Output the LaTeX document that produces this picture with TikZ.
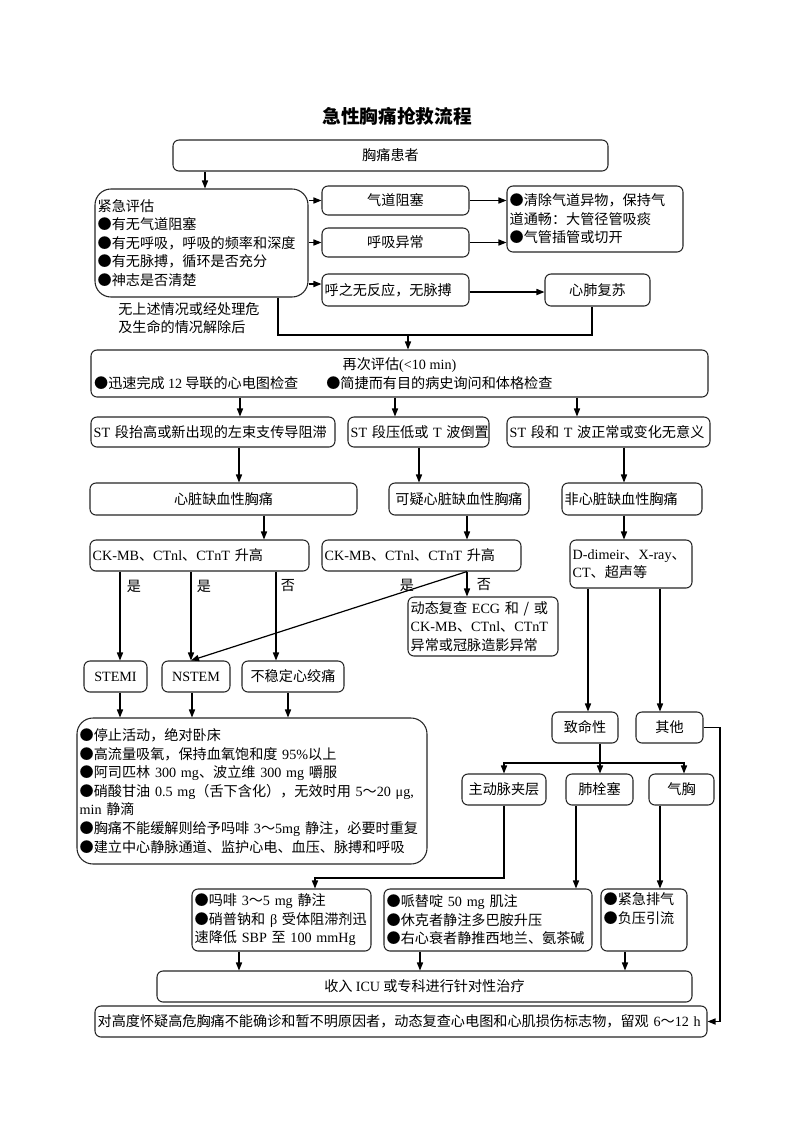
\documentclass[tikz,border=0pt]{standalone}
\usepackage{fontspec}
\setmainfont{Noto Sans CJK SC}
\newfontfamily\enfont{Liberation Serif}
\newcommand\E[1]{{\enfont #1}}
\usetikzlibrary{arrows.meta}
\tikzset{
  box/.style={draw=black!85,line width=0.8pt,rounded corners=4.5pt,inner xsep=2pt,inner ysep=1pt},
  arr/.style={line width=0.9pt,-{Triangle[length=6pt,width=4.6pt]}},
  ln/.style={line width=0.9pt},
  lab/.style={inner sep=0pt}
}
\newcommand\BC[7][]{\node[box,minimum width={(#5-#3)*0.75pt},minimum height={(#6-#4)*0.75pt},#1] (#2) at ({(#3+#5)/2},{(#4+#6)/2}) {#7};}
\newcommand\BL[7][]{\node[box,align=left,text width={(#5-#3)*0.75pt-4pt},minimum width={(#5-#3)*0.75pt},minimum height={(#6-#4)*0.75pt},#1] (#2) at ({(#3+#5)/2},{(#4+#6)/2}) {#7};}
\begin{document}
\begin{tikzpicture}[x=0.75pt,y=-0.75pt,font=\fontsize{10.6}{13.9}\selectfont]
\useasboundingbox (0,0) rectangle (793,1122);
\fill[white] (0,0) rectangle (793,1122);
% title
\node[font=\fontsize{14}{16}\selectfont\bfseries] (title) at (397,116) {急性胸痛抢救流程};
% top part
\BC{top}{173}{140}{608}{171}{胸痛患者}
\BL[rounded corners=12pt]{eval}{95}{189}{308}{297}{紧急评估\\●有无气道阻塞\\●有无呼吸，呼吸的频率和深度\\●有无脉搏，循环是否充分\\●神志是否清楚}
\BC{airway}{322}{186}{469}{215}{气道阻塞}
\BC{breath}{322}{228}{469}{257}{呼吸异常}
\BL{nopulse}{322}{274}{469}{306}{呼之无反应，无脉搏}
\BC{cpr}{545}{274}{650}{306}{心肺复苏}
\BL{clear}{507}{186}{683}{252}{●清除气道异物，保持气\\道通畅：大管径管吸痰\\●气管插管或切开}
\node[align=left,anchor=west,inner sep=0pt,font=\fontsize{10.6}{13.5}\selectfont] (note) at (118,318) {无上述情况或经处理危\\及生命的情况解除后};
% re-evaluation
\BC[align=center]{reeval}{91}{350}{708}{397}{再次评估\E{(<10~min)}\\\makebox[458pt][l]{●迅速完成~\E{12}~导联的心电图检查\hspace{21pt}●简捷而有目的病史询问和体格检查}}
\BL{stA}{91}{417}{335}{447}{\E{ST}~段抬高或新出现的左束支传导阻滞}
\BL{stB}{348}{417}{489}{447}{\E{ST}~段压低或~\E{T}~波倒置}
\BL{stC}{507}{417}{710}{447}{\E{ST}~段和~\E{T}~波正常或变化无意义}
\BC{isch}{90}{483}{357}{515}{心脏缺血性胸痛}
\BC{susp}{389}{483}{529}{515}{可疑心脏缺血性胸痛}
\BL{nonisch}{562}{483}{702}{515}{非心脏缺血性胸痛}
\BL{ckA}{90}{540}{309}{571}{\E{CK-MB}、\E{CTnl}、\E{CTnT}~升高}
\BL{ckB}{322}{540}{521}{571}{\E{CK-MB}、\E{CTnl}、\E{CTnT}~升高}
\BL{ddim}{570}{540}{692}{588}{\E{D-dimeir}、\E{X-ray}、\\\E{CT}、超声等}
\BL{dyn}{408}{597}{558}{656}{动态复查~\E{ECG}~和~/~或\\\E{CK-MB}、\E{CTnl}、\E{CTnT}\\异常或冠脉造影异常}
\BC{stemi}{84}{661}{147}{692}{\E{STEMI}}
\BC{nstem}{162}{661}{230}{692}{\E{NSTEM}}
\BC{ua}{242}{661}{344}{692}{不稳定心绞痛}
\BL[rounded corners=12pt]{treat}{77}{718}{427}{864}{●停止活动，绝对卧床\\●高流量吸氧，保持血氧饱和度~\E{95\%}以上\\●阿司匹林~\E{300~mg}、波立维~\E{300~mg}~嚼服\\●硝酸甘油~\E{0.5~mg}（舌下含化），无效时用~\E{5}～\E{20~μg,}\\\E{min}~静滴\\●胸痛不能缓解则给予吗啡~\E{3}～\E{5mg}~静注，必要时重复\\●建立中心静脉通道、监护心电、血压、脉搏和呼吸}
% right branch
\BC{fatal}{552}{712}{618}{743}{致命性}
\BC{other}{636}{712}{703}{743}{其他}
\BC{aorta}{462}{774}{546}{805}{主动脉夹层}
\BC{pe}{566}{774}{633}{805}{肺栓塞}
\BC{ptx}{649}{774}{714}{805}{气胸}
\BL{t1}{192}{889}{371}{951}{●吗啡~\E{3}～\E{5~mg}~静注\\●硝普钠和~\E{β}~受体阻滞剂迅\\速降低~\E{SBP}~至~\E{100~mmHg}}
\BL{t2}{384}{889}{592}{951}{●哌替啶~\E{50~mg}~肌注\\●休克者静注多巴胺升压\\●右心衰者静推西地兰、氨茶碱}
\BL{t3}{601}{889}{687}{951}{●紧急排气\\●负压引流\\\strut}
\BC{icu}{157}{971}{692}{1002}{收入 \E{ICU} 或专科进行针对性治疗}
\BL{final}{95}{1006}{707}{1037}{对高度怀疑高危胸痛不能确诊和暂不明原因者，动态复查心电图和心肌损伤标志物，留观~\E{6}～\E{12~h}}
% labels
\node[lab] (y1) at (134,586) {是};
\node[lab] (y2) at (204,586) {是};
\node[lab] (n1) at (288,586) {否};
\node[lab] (y3) at (407,585) {是};
\node[lab] (n2) at (484,585) {否};
% connectors top
\draw[arr] (205,0 |- top.south) -- (205,0 |- eval.north);
\draw[arr] (eval.east |- airway.west) -- (airway.west);
\draw[arr] (eval.east |- breath.west) -- (breath.west);
\draw[arr] (eval.east |- 0,284) -- (nopulse.west |- 0,284);
\draw[arr] (airway.east) -- (clear.west |- airway.east);
\draw[arr] (breath.east) -- (clear.west |- breath.east);
\draw[arr] (nopulse.east |- 0,292) -- (cpr.west |- 0,292);
\coordinate (j0) at (278,335);
\coordinate (j1) at (408,335);
\coordinate (j2) at (592,335);
\draw[ln] (278,0 |- eval.south) -- (j0) -- (j2) -- (592,0 |- cpr.south);
\draw[arr] (j1) -- (408,0 |- reeval.north);
% middle
\draw[arr] (240,0 |- reeval.south) -- (240,0 |- stA.north);
\draw[arr] (395,0 |- reeval.south) -- (395,0 |- stB.north);
\draw[arr] (577,0 |- reeval.south) -- (577,0 |- stC.north);
\draw[arr] (239,0 |- stA.south) -- (239,0 |- isch.north);
\draw[arr] (419,0 |- stB.south) -- (419,0 |- susp.north);
\draw[arr] (624,0 |- stC.south) -- (624,0 |- nonisch.north);
\draw[arr] (264,0 |- isch.south) -- (264,0 |- ckA.north);
\draw[arr] (467,0 |- susp.south) -- (467,0 |- ckB.north);
\draw[arr] (624,0 |- nonisch.south) -- (624,0 |- ddim.north);
\draw[arr] (120,0 |- ckA.south) -- (120,0 |- stemi.north);
\draw[arr] (191,0 |- ckA.south) -- (191,0 |- nstem.north);
\draw[arr] (276,0 |- ckA.south) -- (276,0 |- ua.north);
\draw[arr] (467,0 |- ckB.south) -- (467,0 |- dyn.north);
\draw[arr] (467,0 |- ckB.south) -- (191,0 |- nstem.north);
\draw[arr] (120,0 |- stemi.south) -- (120,0 |- treat.north);
\draw[arr] (192,0 |- nstem.south) -- (192,0 |- treat.north);
\draw[arr] (288,0 |- ua.south) -- (288,0 |- treat.north);
% right
\draw[arr] (588,0 |- ddim.south) -- (588,0 |- fatal.north);
\draw[arr] (660,0 |- ddim.south) -- (660,0 |- other.north);
\coordinate (br) at (600,763);
\draw[arr] (600,0 |- fatal.south) -- (600,0 |- pe.north);
\draw[arr] (br) -| (504,0 |- aorta.north);
\draw[arr] (br) -| (684,0 |- ptx.north);
\coordinate (k) at (315,878);
\draw[arr] (504,0 |- aorta.south) |- (k) -- (315,0 |- t1.north);
\draw[arr] (576,0 |- pe.south) -- (576,0 |- t2.north);
\draw[arr] (660,0 |- ptx.south) -- (660,0 |- t3.north);
\draw[arr] (239,0 |- t1.south) -- (239,0 |- icu.north);
\draw[arr] (420,0 |- t2.south) -- (420,0 |- icu.north);
\draw[arr] (625,0 |- t3.south) -- (625,0 |- icu.north);
\draw[arr] (other.east) -| (720,0 |- final.east) -- (final.east);
\end{tikzpicture}
\end{document}
